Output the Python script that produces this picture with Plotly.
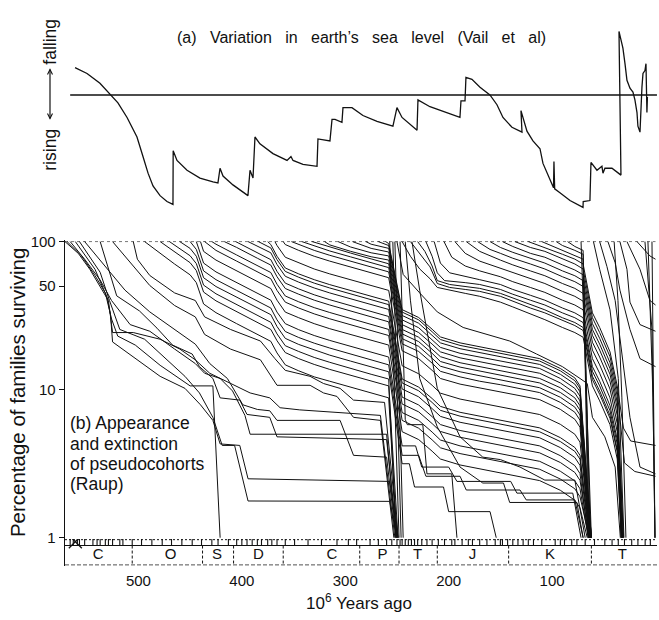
import math
import plotly.graph_objects as go

W, H = 659, 620
INK = "#111111"
FONT = "Liberation Sans, Arial, Helvetica, sans-serif"

# ---------------- data ----------------
# (a) sea level curve: (Ma, relative level; positive = falling)
sea_level_curve = [
    (561.3, 28), (549.7, 22), (537.2, 12), (527.5, 1), (519.8, -8), (511.0, -23), (501.4, -43),
    (495.6, -63), (490.7, -80), (485.9, -93), (479.1, -103), (472.4, -109), (466.6, -112),
    (466.4, -57), (462.7, -67), (453.0, -77), (440.5, -85), (427.9, -89), (423.1, -90),
    (421.1, -75), (418.2, -83), (408.6, -92), (394.1, -103), (392.1, -77), (389.2, -85),
    (387.3, -43), (382.5, -50), (369.9, -60), (356.3, -67), (352.5, -63), (350.5, -67),
    (340.9, -71), (327.3, -73), (326.4, -45), (319.6, -46), (314.8, -47), (312.8, -25),
    (309.9, -25), (303.2, -28), (302.2, -13), (293.5, -13), (282.9, -21), (269.3, -27),
    (253.9, -32), (250.0, -13), (245.1, -23), (230.6, -36), (229.7, -5), (218.1, -12),
    (205.5, -17), (189.1, -23), (188.1, -6), (184.2, -6), (183.3, 18), (177.5, 16),
    (169.7, 8), (160.1, 0), (153.3, -10), (147.5, -23), (138.8, -33), (129.1, -38),
    (130.1, -16), (124.3, -37), (118.5, -47), (111.7, -55), (108.8, -70), (102.0, -87),
    (98.6, -95), (98.2, -68), (97.5, -96), (92.4, -100), (82.7, -108), (70.1, -115),
    (69.9, -109), (63.4, -108), (62.4, -69), (56.6, -77), (51.8, -73), (50.8, -80),
    (48.9, -75), (42.1, -75), (33.4, -82), (35.3, 65), (31.5, 48), (29.5, 32), (27.6, 15),
    (24.7, 7), (21.8, 3), (19.9, -5), (17.9, -18), (17.0, -32), (15.0, -38), (13.1, 8),
    (12.1, 22), (10.2, 25), (9.2, 32), (8.3, -18), (7.8, -2),
]
sea_zero_span = [566, -1.4]

# geological periods (Ma) and labels
periods = ["C", "O", "S", "D", "C", "P", "T", "J", "K", "T"]
period_bounds = [571, 506, 438, 408, 360, 286, 248, 211, 142, 62, 0]
period_label_ma = [539, 469, 424, 384, 313, 264, 230, 177, 102, 32]
stage_bounds = [566, 563, 559, 557, 552, 544, 540, 537, 532, 529, 525, 518, 515, 506, 497, 487,
                477, 468, 458, 448, 439, 429, 423, 413, 405, 400, 395, 390, 385, 381, 375, 371,
                366, 358, 349, 336, 323, 308, 297, 289, 276, 268, 260, 255, 250, 247, 245, 242,
                239, 236, 233, 230, 226, 221, 216, 210, 204, 197, 194, 187, 181, 177, 170, 163,
                155, 150, 148, 143, 138, 133, 128, 123, 118, 110, 97, 92, 88, 81, 76, 68, 59,
                49, 42, 36, 30, 23, 17, 10, 5]

x_ticks = [500, 400, 300, 200, 100, 0]
y_ticks = [1, 10, 50, 100]

# (b) pseudocohort survivorship curves: lists of (Ma, % surviving)
paleozoic_early = [
    [(571,100),(558,83),(547,65),(537,50),(530,41),(527,32),(525,21),(479,12.3),(455,10.2),(440,7.9),(428,6.2),(421,4.3),(402,4.2),(394,2.5),(257,2.4),(249,1)],
    [(569,100),(555,80),(542,59),(532,45),(526,30),(520,23),(503,20),(479,14.6),(450,10.6),(428,10.6),(421,1)],
    [(537,100),(521,43),(499,34),(482,26),(467,20),(448,17.4),(441,14.3),(428,11.9),(421,8.8),(402,8.5),(395,6.8),(373,6.5),(366,4.8),(260,4.6),(250,1)],
    [(566,100),(552,76),(537,55),(526,40),(508,27.5),(489,24.8),(465,18.8),(445,15),(436,12.9),(421,11.9),(409,9.8),(397,6.7),(392,5),(260,5),(251,1)],
    [(552,100),(532,68),(513,47),(489,33.5),(465,25.5),(445,20.3),(431,15),(414,11.9),(399,7.9),(385,7.35),(373,7.2),(366,6.2),(305,6.2),(292,3.6),(260,3.5),(251,1)],
    [(525,100),(508,72),(489,50.5),(465,37),(445,31),(436,23.6),(411,18.8),(382,15.9),(370,11.9),(366,10.7),(334,10.7),(321,9.5),(308,9),(292,6.5),(266,6.2),(253,1)],
    [(505,100),(501,76),(489,59),(465,45),(445,40),(436,31),(411,25.5),(382,21.3),(368,16.2),(358,13.5),(334,12.3),(321,11),(305,10.2),(292,8.5),(262,8.2),(249,1)],
    [(561,100),(542,65),(529,40),(525,24.3),(505,24.3),(479,21.9),(460,18.8),(445,15.9),(431,12.9),(411,11),(392,9.5),(373,8.8),(363,7.55),(344,7.3),(305,7),(266,6.7),(252,1)],
    [(557,100),(537,62),(528,40),(518,25.5),(494,21.9),(474,16.2),(455,12.3),(441,9.5),(428,6.5),(419,4.2),(407,4.2),(394,1.77),(257,1.76),(250,1)],
]

paleozoic_cohorts = [
    [(494,100),(481,85),(465,70.5),(450,59.6),(444,52.8),(437,37.9),(425,33.1),(405,27.9),(385,23.6),(372,21.2),(366,17.7),(358,14.7),(345,13.4),(330,12.2),(315,11.4),(295,10.4),(275,9.5),(258,8.8),(250,1)],
    [(479,100),(465,85),(450,72),(444,63.7),(437,45.6),(425,39.8),(405,33.8),(385,28.4),(372,25.5),(366,21.4),(358,17.8),(345,16.2),(330,14.8),(315,13.7),(295,12.5),(275,11.4),(258,10.6),(249,1)],
    [(470,100),(465,94.8),(450,80.2),(444,71),(437,50.8),(425,44.4),(405,37.6),(385,31.8),(372,28.5),(366,23.8),(358,19.8),(345,18.1),(330,16.5),(315,15.3),(295,13.9),(275,12.7),(258,11.8),(251,1)],
    [(460,100),(450,89.9),(444,79.6),(437,57),(425,49.7),(405,42),(385,35.6),(372,32.1),(366,26.7),(358,22.2),(345,20.2),(330,18.5),(315,17.1),(295,15.6),(275,14.3),(258,13.2),(245,3.16),(238,3.16),(233,2.2),(205,2.2),(200,1.5),(160,1.5),(154,1)],
    [(450,100),(444,88.5),(437,63.4),(425,55.3),(405,46.8),(385,39.6),(372,35.6),(366,29.6),(358,24.7),(345,22.5),(330,20.6),(315,19.1),(295,17.4),(275,15.8),(258,14.7),(245,3.6),(229,3.6),(222,2.6),(189,2.6),(183,2.1),(131,2.1),(125,1.8),(78,1.8),(70,1)],
    [(444,100),(437,71.6),(425,62.4),(405,52.8),(385,44.7),(372,40.2),(366,33.4),(358,27.9),(345,25.4),(330,23.2),(315,21.5),(295,19.6),(275,17.9),(258,16.6),(245,4.17),(232,4.17),(226,3.0),(200,3.0),(192,2.4),(140,2.4),(134,2.0),(80,2.0),(72,1)],
    [(440,100),(437,85.9),(425,75),(405,63.4),(385,53.6),(372,48.2),(366,40.2),(358,33.4),(345,30.6),(330,27.9),(315,25.8),(295,23.6),(275,21.5),(258,20),(245,5.2),(229,4.6),(216,3.84),(208,3.4),(189,3.1),(170,2.92),(150,2.75),(131,2.58),(112,2.43),(92,2.09),(78,1.79),(73,1.59),(66,1)],
    [(436,100),(425,87.2),(405,73.8),(385,62.4),(372,56.1),(366,46.8),(358,39),(345,35.6),(330,32.5),(315,30.1),(295,27.5),(275,25),(258,23.2),(245,6.2),(229,5.49),(216,4.58),(208,4.05),(189,3.7),(170,3.48),(150,3.27),(131,3.08),(112,2.9),(92,2.49),(78,2.14),(73,1.89),(64,1)],
    [(429,100),(425,96),(405,81.2),(385,68.7),(372,61.8),(366,51.5),(358,42.9),(345,39.2),(330,35.8),(315,33.2),(295,30.2),(275,27.6),(258,25.5),(245,7.0),(229,6.2),(216,5.17),(208,4.57),(189,4.17),(170,3.93),(150,3.7),(131,3.48),(112,3.28),(92,2.81),(78,2.42),(73,2.14),(65,1)],
    [(417,100),(405,91.3),(385,77.2),(372,69.4),(366,57.9),(358,48.2),(345,44.1),(330,40.2),(315,37.3),(295,34),(275,31.1),(258,28.7),(245,8.0),(229,7.08),(216,5.9),(208,5.22),(189,4.77),(170,4.49),(150,4.22),(131,3.98),(112,3.74),(92,3.22),(78,2.76),(73,2.44),(64,1)],
    [(406,100),(385,84),(372,75.5),(366,62.9),(358,52.4),(345,47.9),(330,43.7),(315,40.5),(295,36.9),(275,33.8),(258,31.2),(245,8.9),(229,7.88),(216,6.57),(208,5.81),(189,5.3),(170,4.99),(150,4.7),(131,4.42),(112,4.17),(92,3.58),(78,3.07),(73,2.71),(65,1)],
    [(394,100),(385,93.4),(372,84),(366,70),(358,58.3),(345,53.2),(330,48.6),(315,45),(295,41.1),(275,37.5),(258,34.8),(245,10.1),(229,8.94),(216,7.45),(208,6.6),(189,6.02),(170,5.67),(150,5.33),(131,5.02),(112,4.73),(92,4.06),(78,3.48),(73,3.08),(64,1)],
    [(384,100),(372,90.6),(366,75.5),(358,62.9),(345,57.4),(330,52.4),(315,48.6),(295,44.3),(275,40.5),(258,37.5),(245,11.1),(229,9.82),(216,8.19),(208,7.25),(189,6.62),(170,6.23),(150,5.86),(131,5.52),(112,5.19),(92,4.46),(78,3.83),(73,3.39),(63,1)],
    [(375,100),(372,95.5),(366,79.6),(358,66.3),(345,60.5),(330,55.3),(315,51.2),(295,46.8),(275,42.7),(258,39.6),(245,11.8),(229,10.4),(216,8.71),(208,7.71),(189,7.03),(170,6.62),(150,6.23),(131,5.86),(112,5.52),(92,4.74),(78,4.07),(73,3.6),(64,1)],
    [(368,100),(366,94.1),(358,78.4),(345,71.6),(330,65.3),(315,60.5),(295,55.3),(275,50.5),(258,46.8),(245,14.5),(229,12.8),(216,10.7),(208,9.47),(189,8.64),(170,8.13),(150,7.66),(131,7.21),(112,6.79),(92,5.83),(78,5.0),(73,4.42),(63,1)],
    [(360,100),(358,95.5),(345,87.2),(330,79.6),(315,73.8),(295,67.3),(275,61.5),(258,57),(245,18.3),(229,16.2),(216,13.5),(208,11.9),(189,10.9),(170,10.3),(150,9.66),(131,9.1),(112,8.56),(92,7.36),(78,6.31),(73,5.58),(64,1)],
    [(352,100),(345,95.5),(330,87.2),(315,80.8),(295,73.8),(275,67.3),(258,62.4),(245,20.4),(229,18.1),(216,15.1),(208,13.3),(189,12.2),(170,11.4),(150,10.8),(131,10.1),(112,9.55),(92,8.2),(78,7.04),(73,6.22),(63,1)],
    [(342,100),(330,93.2),(315,86.4),(295,78.9),(275,72),(258,66.7),(245,22.1),(229,19.6),(216,16.3),(208,14.4),(189,13.2),(170,12.4),(150,11.7),(131,11.0),(112,10.3),(92,8.88),(78,7.62),(73,6.74),(64,1)],
    [(332,100),(315,91.7),(295,83.7),(275,76.4),(258,70.8),(245,23.8),(229,21.1),(216,17.6),(208,15.5),(189,14.2),(170,13.4),(150,12.6),(131,11.8),(112,11.1),(92,9.57),(78,8.21),(73,7.26),(62,1)],
    [(320,100),(315,95),(295,86),(275,79),(258,75),(245,25.5),(229,22.6),(216,18.8),(208,16.7),(189,15.2),(170,14.3),(150,13.5),(131,12.7),(112,11.9),(92,10.3),(78,8.8),(73,7.78),(63,1)],
    [(307,100),(295,92),(275,84),(258,80),(245,27.5),(229,24.3),(216,20.3),(208,18.0),(189,16.4),(170,15.4),(150,14.5),(131,13.7),(112,12.9),(92,11.1),(78,9.49),(73,8.39),(62,1)],
    [(293,100),(275,90),(258,85),(245,29.6),(229,26.2),(216,21.8),(208,19.3),(189,17.6),(170,16.6),(150,15.6),(131,14.7),(112,13.9),(92,11.9),(78,10.2),(73,9.03),(63,1)],
    [(280,100),(275,96),(258,90),(245,31.7),(229,28.1),(216,23.4),(208,20.7),(189,18.9),(170,17.8),(150,16.7),(131,15.8),(112,14.8),(92,12.7),(78,10.9),(73,9.67),(62,1)],
    [(268,100),(258,94),(245,33.4),(229,29.6),(216,24.6),(208,21.8),(189,19.9),(170,18.7),(150,17.6),(131,16.6),(112,15.6),(92,13.4),(78,11.5),(73,10.2),(63,1)],
    [(261,100),(258,97),(245,34.7),(229,30.7),(216,25.6),(208,22.7),(189,20.7),(170,19.5),(150,18.3),(131,17.2),(112,16.2),(92,13.9),(78,12.0),(73,10.6),(62,1)],
    [(257,100),(248,1)],
    [(254,100),(246,1)],
    [(252,100),(244,1)],
]

mesozoic_cohorts = [
    [(245,100),(237,79.6),(228,65.3),(218,56.1),(211,49),(199,46.8),(184,44.7),(170,42.7),(150,39),(138,36.2),(121,32.5),(107,29.7),(90,26.3),(78,24.3),(70,22.6),(61,10.6),(54,8.4),(44,5.8),(37,3.4),(33,1)],
    [(237,100),(228,83.3),(218,67.4),(211,52.1),(199,49),(184,47.5),(170,46.1),(150,42.7),(138,39.6),(121,35.6),(107,33),(90,29.2),(78,27.1),(70,25.1),(61,11.7),(54,9.3),(44,6.4),(37,3.8),(33,1)],
    [(230,100),(223,85.9),(216,68.4),(211,54.5),(199,51.3),(184,49.8),(170,48.3),(150,44.7),(138,41.5),(121,37.3),(107,34.6),(90,30.6),(78,28.4),(70,26.3),(61,12.3),(54,9.8),(44,6.7),(37,3.9),(32,1)],
    [(222,100),(216,79.6),(211,61.5),(204,54.5),(184,52.8),(170,51.3),(150,47.5),(138,44.1),(121,40.2),(107,37.3),(90,33),(78,30.6),(70,28.4),(61,13.3),(54,10.6),(44,7.2),(37,4.3),(32,1)],
    [(214,100),(208,71.6),(199,61.5),(184,57.9),(170,55.3),(150,51.3),(138,47.5),(121,43.4),(107,40.2),(90,35.6),(78,33),(70,30.6),(61,14.3),(54,11.4),(44,7.8),(37,4.6),(33,1)],
    [(204.5,100),(197,78.4),(184,68.4),(170,63.4),(150,57.9),(138,53.6),(121,49),(107,45.4),(90,40.2),(78,37.3),(70,34.6),(61,16.2),(54,12.9),(44,8.8),(37,5.2),(32,1)],
    [(194,100),(184,83.3),(170,73.8),(150,66.3),(138,61.5),(121,56.1),(107,52.1),(90,46.1),(78,42.7),(70,39.6),(61,18.5),(54,14.7),(44,10.1),(37,5.9),(33,1)],
    [(183,100),(170,85.9),(150,75),(138,69.6),(121,63.4),(107,58.8),(90,52.1),(78,48.3),(70,44.7),(61,20.9),(54,16.6),(44,11.4),(37,6.7),(31,1)],
    [(172,100),(160,88.5),(150,83.3),(138,77.2),(121,70.6),(107,65.3),(90,57.9),(78,53.6),(70,49.8),(61,23.3),(54,18.5),(44,12.7),(37,7.5),(32,1)],
    [(160,100),(150,91.3),(138,84.6),(121,77.2),(107,71.6),(90,63.4),(78,58.8),(70,54.5),(61,25.5),(54,20.3),(44,13.9),(37,8.2),(33,1)],
    [(148,100),(138,92.7),(121,83.3),(107,78.4),(90,69.6),(78,64.3),(70,59.7),(61,27.9),(54,22.2),(44,15.2),(37,9.0),(31,1)],
    [(136,100),(121,91.3),(107,85.9),(90,76.1),(78,70.6),(70,65.3),(61,30.6),(54,24.3),(44,16.7),(37,9.8),(30,3.2),(20,2.8),(0,2.6)],
    [(123,100),(107,91.3),(90,82.1),(78,76.1),(70,70.6),(61,33),(54,26.3),(44,18),(37,10.6),(31,5.5),(24,4.5),(0,4.2)],
    [(110,100),(90,87.2),(78,80.8),(70,76.1),(63,1)],
    [(96,100),(90,94.1),(78,87.2),(70,82.1),(64,1)],
    [(85,100),(78,92.7),(70,87.2),(65,1)],
    [(72,100),(62,1)],
    [(250,100),(247,76),(244,60),(228,45),(211,33.5),(186,26.3),(163,23.6),(141,21.3),(115,17.4),(90,14.3),(73,11.9),(66,11),(61,6.5),(49,4.8),(39,3),(34,1)],
    [(247,100),(242,6.3),(240,5.8),(225,5.8),(221,2.7),(197,2.7),(192,1)],
    [(242,100),(237,40.2),(228,11.9),(211,5.6),(189,3.0),(167,2.34),(147,2.34),(141,1.73),(76,1.73),(70,1)],
    [(235.5,100),(228,46.8),(211,10.2),(189,4.8),(167,3.5),(150,3.37),(131,3.0),(107,2.45),(78,2.45),(68,1)],
]

cenozoic_cohorts = [
    [(60,100),(54,65),(44,34.6),(36,11.9),(30.5,1)],
    [(54,100),(47,68),(39,40),(34.4,22),(24.7,6.5),(15,3),(0,2.7)],
    [(46,100),(39,72),(34.4,47),(24.7,25.5),(15,16.2),(0,14.3)],
    [(40,100),(36.3,40),(32.5,8.8),(28.6,1)],
    [(34.4,100),(27.6,65),(24.7,39),(15,27.5),(0,24.8)],
    [(27.6,100),(15,65),(5.4,40),(0,37.3)],
    [(17.9,100),(5.4,80),(0,76)],
    [(10.2,100),(3.4,25.5),(0.5,1)],
    [(7.3,100),(2.4,8.8),(0.5,1)],
    [(3.4,100),(0.5,1)],
]

# ---------------- figure ----------------
def px_x(p):
    return p / W


def px_y(p):
    return 1 - p / H


X_DOMAIN = [px_x(65), px_x(657)]
X_RANGE = [571, -1.45]

fig = go.Figure()

# (a) sea level
fig.add_trace(go.Scatter(
    x=list(sea_zero_span), y=[0, 0], mode="lines", xaxis="x2", yaxis="y2",
    line=dict(color=INK, width=1.4), hoverinfo="skip", showlegend=False))
fig.add_trace(go.Scatter(
    x=[p[0] for p in sea_level_curve], y=[p[1] for p in sea_level_curve],
    mode="lines", xaxis="x2", yaxis="y2",
    line=dict(color=INK, width=1.3), hoverinfo="skip", showlegend=False))

# (b) cohorts
fig.add_trace(go.Scatter(x=[X_RANGE[0], 0], y=[100, 100], mode="lines", xaxis="x", yaxis="y",
                         line=dict(color="#555", width=0.8, dash="dot"),
                         hoverinfo="skip", showlegend=False))
for group in (paleozoic_early, paleozoic_cohorts, mesozoic_cohorts, cenozoic_cohorts):
    for pts in group:
        fig.add_trace(go.Scatter(
            x=[p[0] for p in pts], y=[p[1] for p in pts], mode="lines",
            xaxis="x", yaxis="y", line=dict(color=INK, width=1.0),
            hoverinfo="skip", showlegend=False))

# time-scale strip
U_TOP, U_MID, U_BOT = 0.975, 0.754, 0.02
tx, ty = [], []
for b in stage_bounds:
    tx += [b, b, None]
    ty += [1.0, U_MID, None]
fig.add_trace(go.Scatter(x=tx, y=ty, mode="lines", xaxis="x", yaxis="y3",
                         line=dict(color=INK, width=1.1), hoverinfo="skip", showlegend=False))
sx, sy = [], []
for b in period_bounds[1:-1]:
    sx += [b, b, None]
    sy += [U_MID, 0.0, None]
fig.add_trace(go.Scatter(x=sx, y=sy, mode="lines", xaxis="x", yaxis="y3",
                         line=dict(color=INK, width=1.0, dash="3px,2px"),
                         hoverinfo="skip", showlegend=False))
for u, dash, wd in ((U_TOP, "2px,2px", 1.0), (U_MID, "solid", 1.1), (U_BOT, "4px,2px", 1.0)):
    fig.add_trace(go.Scatter(x=[X_RANGE[0], X_RANGE[1]], y=[u, u], mode="lines",
                             xaxis="x", yaxis="y3", line=dict(color=INK, width=wd, dash=dash),
                             hoverinfo="skip", showlegend=False))
fig.add_trace(go.Scatter(x=period_label_ma, y=[0.39] * len(periods), mode="text",
                         text=periods, textfont=dict(family=FONT, size=15, color=INK),
                         xaxis="x", yaxis="y3", hoverinfo="skip", showlegend=False))
fig.add_trace(go.Scatter(x=[561], y=[0.9], mode="markers", xaxis="x", yaxis="y3",
                         marker=dict(symbol="x-thin", size=13, line=dict(color=INK, width=1.3)),
                         hoverinfo="skip", showlegend=False))

LOG_LO, LOG_HI = math.log10(0.98), math.log10(102)
fig.update_layout(
    width=W, height=H, margin=dict(l=0, r=0, t=0, b=0),
    paper_bgcolor="white", plot_bgcolor="white",
    font=dict(family=FONT, size=15, color=INK),
    showlegend=False,
    xaxis=dict(domain=X_DOMAIN, range=X_RANGE, anchor="y3", showgrid=False, zeroline=False,
               showline=False, ticks="", tickvals=x_ticks, ticktext=[str(v) for v in x_ticks],
               tickfont=dict(size=15), ticklabelstandoff=4, fixedrange=True),
    yaxis=dict(domain=[px_y(544.3), px_y(238.7)], type="log", range=[LOG_LO, LOG_HI],
               anchor="x", showgrid=False, zeroline=False, showline=True, linecolor=INK,
               linewidth=1.3, ticks="outside", ticklen=5, tickwidth=1.2, tickcolor=INK,
               tickvals=y_ticks, ticktext=[str(v) for v in y_ticks], tickfont=dict(size=15),
               fixedrange=True),
    yaxis3=dict(domain=[px_y(571.5), px_y(544.3)], range=[0, 1], anchor="x",
                showgrid=False, zeroline=False, showline=True, linecolor=INK, linewidth=1.3,
                ticks="", showticklabels=False, fixedrange=True),
    xaxis2=dict(domain=X_DOMAIN, range=X_RANGE, anchor="y2", visible=False, fixedrange=True),
    yaxis2=dict(domain=[px_y(215), px_y(15)], range=[-125, 75], anchor="x2", visible=False,
                fixedrange=True),
)


def label(text, xp, yp, size, angle=0, xanchor="center"):
    return dict(text=text, x=px_x(xp), y=px_y(yp), xref="paper", yref="paper",
                xanchor=xanchor, yanchor="middle", showarrow=False, textangle=angle,
                font=dict(size=size))


SP = "\u00a0\u00a0\u00a0"
ann = [
    label(SP.join(["(a)", "Variation", "in", "earth\u2019s", "sea", "level", "(Vail", "et", "al)"]),
          362, 31, 16),
    label("falling", 50, 35.5, 17.5, -90),
    label("rising", 50, 146, 17.5, -90),
    label("Percentage of families surviving", 17, 395, 20.5, -90),
    label("10<sup>6</sup> Years ago", 359, 609, 17),
]
for txt, yc in (("(b) Appearance", 426), ("and extinction", 447), ("of pseudocohorts", 467.5),
                ("(Raup)", 488)):
    ann.append(label(txt, 68, yc, 17.5, xanchor="left"))
fig.update_layout(annotations=ann)

# double-headed arrow between "rising" and "falling"
AX = px_x(50)
shapes = [dict(type="line", xref="paper", yref="paper", x0=AX, x1=AX, y0=px_y(64), y1=px_y(114),
               line=dict(color=INK, width=1.2))]
for tip, back in ((64, 69), (114, 109)):
    shapes.append(dict(type="path", xref="paper", yref="paper",
                       path=f"M {px_x(47.5)} {px_y(back)} L {AX} {px_y(tip)} L {px_x(52.5)} {px_y(back)}",
                       line=dict(color=INK, width=1.1)))
fig.update_layout(shapes=shapes)

fig.write_html("out.html", config={"displayModeBar": False, "staticPlot": True},
               post_script="document.body.style.margin='0px';document.body.style.overflow='hidden';")
